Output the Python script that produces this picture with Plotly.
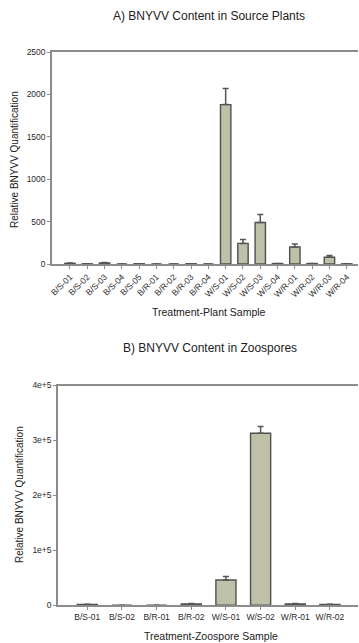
import plotly.graph_objects as go

# ---- Data ----
plant_samples = ["B/S-01", "B/S-02", "B/S-03", "B/S-04", "B/S-05", "B/R-01", "B/R-02", "B/R-03", "B/R-04",
                 "W/S-01", "W/S-02", "W/S-03", "W/S-04", "W/R-01", "W/R-02", "W/R-03", "W/R-04"]
plant_values = [8, 2, 12, 0, 3, 0, 0, 3, 0, 1880, 243, 490, 5, 200, 5, 79, 2]
plant_errors = [3, 1, 5, 0, 1, 0, 0, 1, 0, 190, 47, 95, 2, 35, 2, 20, 1]
plant_yticks = [0, 500, 1000, 1500, 2000, 2500]
plant_yticktext = ["0", "500", "1000", "1500", "2000", "2500"]

zoo_samples = ["B/S-01", "B/S-02", "B/R-01", "B/R-02", "W/S-01", "W/S-02", "W/R-01", "W/R-02"]
zoo_values = [1500, 0, 0, 2500, 46000, 313000, 2500, 1500]
zoo_errors = [500, 0, 0, 800, 6500, 12500, 800, 500]
zoo_yticks = [0, 100000, 200000, 300000, 400000]
zoo_yticktext = ["0", "1e+5", "2e+5", "3e+5", "4e+5"]

W, H = 359, 643
BAR = "#bec0a8"
EDGE = "#505050"
AXIS = "#8c8c8c"
FONT = "Liberation Sans, Arial, sans-serif"

def px(x): return x / W
def py(y): return 1 - y / H

fig = go.Figure()
fig.add_trace(go.Bar(
    x=list(range(len(plant_samples))), y=plant_values, width=0.6,
    marker=dict(color=BAR, line=dict(color=EDGE, width=1.4)),
    error_y=dict(type="data", array=plant_errors, symmetric=False,
                 arrayminus=[0] * len(plant_errors), color="#555555", thickness=1.5, width=3),
    xaxis="x", yaxis="y", showlegend=False))
fig.add_trace(go.Bar(
    x=list(range(len(zoo_samples))), y=zoo_values, width=0.58,
    marker=dict(color=BAR, line=dict(color=EDGE, width=1.4)),
    error_y=dict(type="data", array=zoo_errors, symmetric=False,
                 arrayminus=[0] * len(zoo_errors), color="#555555", thickness=1.5, width=3),
    xaxis="x2", yaxis="y2", showlegend=False))

tickfont = dict(family=FONT, size=8.5, color="#2a2a2a")
common_x = dict(showgrid=False, zeroline=False, showline=True, linecolor=AXIS, linewidth=1.5,
                mirror=True, ticks="outside", ticklen=3, tickcolor=AXIS, tickfont=tickfont,
                automargin=False)
common_y = dict(showgrid=False, zeroline=False, showline=True, linecolor=AXIS, linewidth=1.5,
                ticks="outside", ticklen=3, tickcolor=AXIS, tickfont=tickfont, automargin=False)

fig.update_layout(
    width=W, height=H, margin=dict(l=0, r=0, t=0, b=0, autoexpand=False),
    paper_bgcolor="white", plot_bgcolor="white",
    font=dict(family=FONT, color="#222222"),
    xaxis=dict(**common_x, domain=[px(52), px(358)], anchor="y", range=[-1.04, 16.65],
               tickvals=list(range(len(plant_samples))), ticktext=plant_samples, tickangle=-45),
    yaxis=dict(**common_y, domain=[py(264), py(52)], anchor="x", range=[0, 2500],
               tickvals=plant_yticks, ticktext=plant_yticktext),
    xaxis2=dict(**common_x, domain=[px(58), px(358)], anchor="y2", range=[-0.845, 7.81],
                tickvals=list(range(len(zoo_samples))), ticktext=zoo_samples, tickangle=0),
    yaxis2=dict(**common_y, domain=[py(605.3), py(385.5)], anchor="x2", range=[0, 400000],
                tickvals=zoo_yticks, ticktext=zoo_yticktext),
    bargap=0.4,
)

def ann(text, x, y, size, angle=0):
    fig.add_annotation(text=text, x=px(x), y=py(y), xref="paper", yref="paper",
                       showarrow=False, textangle=angle, xanchor="center", yanchor="middle",
                       font=dict(family=FONT, size=size, color="#222222"))

ann("A) BNYVV Content in Source Plants", 208.5, 16, 12)
ann("B) BNYVV Content in Zoospores", 210, 348, 12)
ann("Treatment-Plant Sample", 209, 311.5, 10.5)
ann("Treatment-Zoospore Sample", 211, 635.5, 10.5)
ann("Relative BNYVV Quantification", 14, 160, 10, -90)
ann("Relative BNYVV Quantification", 19, 495, 10, -90)

fig.write_html("out.html", config={"displayModeBar": False},
               post_script="document.body.style.margin='0';document.body.style.overflow='hidden';")
